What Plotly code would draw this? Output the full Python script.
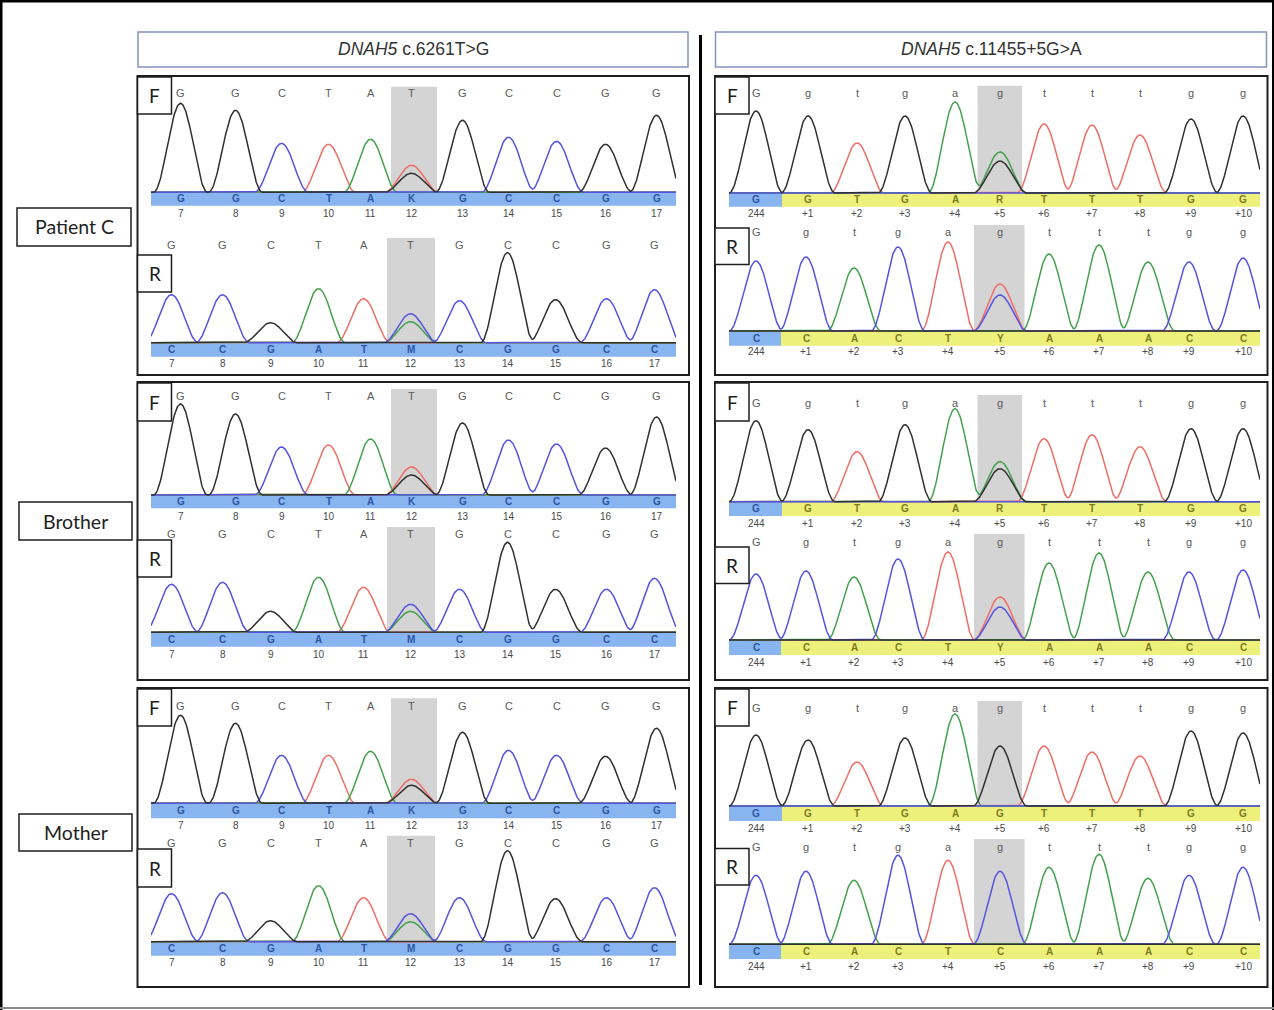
import numpy as np
import plotly.graph_objects as go

W, H = 1274, 1010

# ---------------- data ----------------
REF_LEFT = ["G", "G", "C", "T", "A", "T", "G", "C", "C", "G", "G"]
REF_RIGHT = ["G", "g", "t", "g", "a", "g", "t", "t", "t", "g", "g"]

CALL_LEFT_F = ["G", "G", "C", "T", "A", "K", "G", "C", "C", "G", "G"]
CALL_LEFT_R = ["C", "C", "G", "A", "T", "M", "C", "G", "G", "C", "C"]
CALL_RIGHT_F_HET = ["G", "G", "T", "G", "A", "R", "T", "T", "T", "G", "G"]
CALL_RIGHT_R_HET = ["C", "C", "A", "C", "T", "Y", "A", "A", "A", "C", "C"]
CALL_RIGHT_F_WT = ["G", "G", "T", "G", "A", "G", "T", "T", "T", "G", "G"]
CALL_RIGHT_R_WT = ["C", "C", "A", "C", "T", "C", "A", "A", "A", "C", "C"]

NUM_LEFT = ["7", "8", "9", "10", "11", "12", "13", "14", "15", "16", "17"]
NUM_RIGHT = ["244", "+1", "+2", "+3", "+4", "+5", "+6", "+7", "+8", "+9", "+10"]

# peak scan positions (trace scan units)
SCAN_LEFT_F = [43, 98, 144, 191, 233, 274, 325, 371, 419, 468, 519]
SCAN_LEFT_R = [34, 85, 133, 181, 226, 273, 322, 370, 418, 469, 517]
SCAN_RIGHT_F = [41, 93, 142, 190, 240, 285, 329, 377, 425, 476, 528]
SCAN_RIGHT_R = [41, 91, 139, 183, 233, 285, 334, 384, 433, 474, 528]

# dominant dye channel of each peak
CH_LEFT_F = "GGCTATGCCGG"
CH_LEFT_R = "CCGATCCGGCC"
CH_RIGHT_F_HET = "GGTGAATTTGG"
CH_RIGHT_R_HET = "CCACTTAAACC"
CH_RIGHT_F_WT = "GGTGAGTTTGG"
CH_RIGHT_R_WT = "CCACTCAAACC"

# peak heights (signal) and the second peak at the highlighted position
PAT_LEFT_F = [89, 82, 49, 48, 53, 27, 72, 55, 51, 48, 77]
PAT_LEFT_F_2ND = ("G", 19)
PAT_LEFT_R = [48, 48, 20, 54, 44, 29, 42, 90, 43, 44, 53]
PAT_LEFT_R_2ND = ("A", 21)
PAT_RIGHT_F = [82, 77, 50, 77, 91, 41, 69, 68, 58, 74, 77]
PAT_RIGHT_F_2ND = ("G", 32)
PAT_RIGHT_R = [70, 74, 63, 84, 89, 47, 77, 86, 69, 69, 73]
PAT_RIGHT_R_2ND = ("C", 36)

BRO_LEFT_F = [91, 81, 48, 50, 56, 28, 72, 55, 51, 47, 78]
BRO_LEFT_F_2ND = ("G", 20)
BRO_LEFT_R = [48, 50, 21, 55, 45, 28, 43, 90, 43, 43, 54]
BRO_LEFT_R_2ND = ("A", 21)
BRO_RIGHT_F = [81, 72, 50, 77, 93, 40, 63, 67, 55, 73, 73]
BRO_RIGHT_F_2ND = ("G", 33)
BRO_RIGHT_R = [66, 69, 63, 81, 88, 43, 77, 87, 68, 68, 70]
BRO_RIGHT_R_2ND = ("C", 33)

MOM_LEFT_F = [88, 80, 48, 48, 52, 24, 71, 53, 48, 47, 75]
MOM_LEFT_F_2ND = ("G", 18)
MOM_LEFT_R = [48, 49, 21, 56, 44, 28, 44, 91, 43, 44, 54]
MOM_LEFT_R_2ND = ("A", 20)
MOM_RIGHT_F = [71, 66, 44, 68, 92, 60, 60, 54, 50, 75, 73]
MOM_RIGHT_F_2ND = None
MOM_RIGHT_R = [69, 73, 64, 89, 84, 73, 77, 90, 66, 69, 77]
MOM_RIGHT_R_2ND = None

ROW_NAMES = ["Patient C", "Brother", "Mother"]
HEADERS = ["<i>DNAH5</i> c.6261T&gt;G", "<i>DNAH5</i> c.11455+5G&gt;A"]
HET_INDEX = 5

# ---------------- styling / layout ----------------
CH_COLOR = {"G": "#303030", "A": "#45a04e", "T": "#ee6e66", "C": "#5453e2"}
DRAW_ORDER = ["T", "A", "C", "G"]
BAND_BLUE = "#88b4ef"
BAND_YELLOW = "#eef07c"
PEAK_HALF_WIDTH = 27.0
FONT = "Liberation Sans, Arial, sans-serif"
LABEL_FONT = "Lato, Open Sans, sans-serif"

COLS = {  # panel left edge, band x0, band x1, panel right edge
    "L": dict(left=137.5, bx0=151, bx1=676, right=689),
    "R": dict(left=715, bx0=729, bx1=1260, right=1267.5),
}
PANEL_Y = [(76, 375), (382, 680), (688, 987)]
# per track: baseline, letters, band bottom, numbers, grey top (pixels)
GEOM = {
    (0, "L", "F"): (192.3, 93.5, 205.7, 213.3, 86.7),
    (0, "L", "R"): (342.7, 245, 356.7, 363.3, 238),
    (0, "R", "F"): (193, 93.5, 206.7, 213.3, 85.7),
    (0, "R", "R"): (331, 231.7, 345.7, 351.7, 225),
    (1, "L", "F"): (495, 395.5, 508.3, 516, 389),
    (1, "L", "R"): (632.3, 534, 646.7, 654, 527),
    (1, "R", "F"): (501.7, 402.7, 516, 523.3, 395),
    (1, "R", "R"): (640, 541.7, 655, 662.7, 534),
    (2, "L", "F"): (803.3, 705.7, 818.3, 825, 698.3),
    (2, "L", "R"): (941.7, 843.3, 955.7, 962.3, 835.7),
    (2, "R", "F"): (806, 708.3, 821, 828.3, 701),
    (2, "R", "R"): (944.3, 846.7, 959, 966.7, 839),
}
FBOX = [(77, 114), (383, 421), (689, 726)]
RBOX = {(0, "L"): (255, 292), (0, "R"): (228, 264.5), (1, "L"): (540, 577),
        (1, "R"): (547, 583.5), (2, "L"): (849, 887), (2, "R"): (848.5, 885)}
ROW_BOX = [(17, 131, 208, 246), (19, 132, 502, 540), (19, 132, 814, 851)]

TRACKS = [
    (0, "L", "F", PAT_LEFT_F, PAT_LEFT_F_2ND, CH_LEFT_F, SCAN_LEFT_F, REF_LEFT, CALL_LEFT_F, NUM_LEFT),
    (0, "L", "R", PAT_LEFT_R, PAT_LEFT_R_2ND, CH_LEFT_R, SCAN_LEFT_R, REF_LEFT, CALL_LEFT_R, NUM_LEFT),
    (0, "R", "F", PAT_RIGHT_F, PAT_RIGHT_F_2ND, CH_RIGHT_F_HET, SCAN_RIGHT_F, REF_RIGHT, CALL_RIGHT_F_HET, NUM_RIGHT),
    (0, "R", "R", PAT_RIGHT_R, PAT_RIGHT_R_2ND, CH_RIGHT_R_HET, SCAN_RIGHT_R, REF_RIGHT, CALL_RIGHT_R_HET, NUM_RIGHT),
    (1, "L", "F", BRO_LEFT_F, BRO_LEFT_F_2ND, CH_LEFT_F, SCAN_LEFT_F, REF_LEFT, CALL_LEFT_F, NUM_LEFT),
    (1, "L", "R", BRO_LEFT_R, BRO_LEFT_R_2ND, CH_LEFT_R, SCAN_LEFT_R, REF_LEFT, CALL_LEFT_R, NUM_LEFT),
    (1, "R", "F", BRO_RIGHT_F, BRO_RIGHT_F_2ND, CH_RIGHT_F_HET, SCAN_RIGHT_F, REF_RIGHT, CALL_RIGHT_F_HET, NUM_RIGHT),
    (1, "R", "R", BRO_RIGHT_R, BRO_RIGHT_R_2ND, CH_RIGHT_R_HET, SCAN_RIGHT_R, REF_RIGHT, CALL_RIGHT_R_HET, NUM_RIGHT),
    (2, "L", "F", MOM_LEFT_F, MOM_LEFT_F_2ND, CH_LEFT_F, SCAN_LEFT_F, REF_LEFT, CALL_LEFT_F, NUM_LEFT),
    (2, "L", "R", MOM_LEFT_R, MOM_LEFT_R_2ND, CH_LEFT_R, SCAN_LEFT_R, REF_LEFT, CALL_LEFT_R, NUM_LEFT),
    (2, "R", "F", MOM_RIGHT_F, MOM_RIGHT_F_2ND, CH_RIGHT_F_WT, SCAN_RIGHT_F, REF_RIGHT, CALL_RIGHT_F_WT, NUM_RIGHT),
    (2, "R", "R", MOM_RIGHT_R, MOM_RIGHT_R_2ND, CH_RIGHT_R_WT, SCAN_RIGHT_R, REF_RIGHT, CALL_RIGHT_R_WT, NUM_RIGHT),
]


def fx(px):
    return px / W


def fy(py):
    return 1 - py / H


def ann(**kw):
    kw.setdefault("showarrow", False)
    kw.setdefault("xanchor", "center")
    kw.setdefault("yanchor", "middle")
    return kw


def peak_shape(xs, centre, height):
    d = np.clip(np.abs(xs - centre) / PEAK_HALF_WIDTH, 0, 1)
    return height * np.cos(d * np.pi / 2) ** 2


fig = go.Figure()
shapes = []
annotations = []
layout_axes = {}

for k, (row, col, strand, heights, second, chans, scans, ref, calls, nums) in enumerate(TRACKS, start=1):
    c = COLS[col]
    base, let_y, band_bot, num_y, grey_top = GEOM[(row, col, strand)]
    y_top = grey_top - 2
    y_bot = num_y + 8
    xr = [c["bx0"] - c["left"], c["bx1"] - c["left"]]
    yr = [-(y_bot - base), base - y_top]
    xname = "xaxis" if k == 1 else f"xaxis{k}"
    yname = "yaxis" if k == 1 else f"yaxis{k}"
    xref = "x" if k == 1 else f"x{k}"
    yref = "y" if k == 1 else f"y{k}"
    layout_axes[xname] = dict(domain=[fx(c["bx0"]), fx(c["bx1"])], range=xr, visible=False,
                              fixedrange=True, anchor=yref)
    layout_axes[yname] = dict(domain=[fy(y_bot), fy(y_top)], range=yr, visible=False,
                              fixedrange=True, anchor=xref)

    # peaks for each dye channel
    peaks = {ch: [] for ch in "ACGT"}
    for s, ch, h in zip(scans, chans, heights):
        peaks[ch].append((s, h))
    if second is not None:
        peaks[second[0]].append((scans[HET_INDEX], second[1]))
    xs = np.linspace(xr[0], xr[1], 900)
    for ch in DRAW_ORDER:
        ys = np.zeros_like(xs)
        for s, h in peaks[ch]:
            ys += peak_shape(xs, s, h)
        fig.add_trace(go.Scatter(x=xs, y=ys, mode="lines", xaxis=xref, yaxis=yref,
                                 line=dict(color=CH_COLOR[ch], width=1.5),
                                 hoverinfo="skip", showlegend=False))

    # grey highlight of the variant position
    gx0 = (scans[HET_INDEX - 1] + scans[HET_INDEX]) / 2
    gx1 = (scans[HET_INDEX] + scans[HET_INDEX + 1]) / 2
    shapes.append(dict(type="rect", xref=xref, yref=yref, x0=gx0, x1=gx1, y0=0,
                       y1=base - grey_top, fillcolor="#d4d4d4", line=dict(width=0), layer="below"))
    # base-call band
    band_y0 = -(band_bot - base)
    if col == "L":
        shapes.append(dict(type="rect", xref=xref, yref=yref, x0=xr[0], x1=xr[1], y0=band_y0, y1=0.5,
                           fillcolor=BAND_BLUE, line=dict(width=0), layer="below"))
    else:
        mid = (scans[0] + scans[1]) / 2
        shapes.append(dict(type="rect", xref=xref, yref=yref, x0=xr[0], x1=mid, y0=band_y0, y1=0.5,
                           fillcolor=BAND_BLUE, line=dict(width=0), layer="below"))
        shapes.append(dict(type="rect", xref=xref, yref=yref, x0=mid, x1=xr[1], y0=band_y0, y1=0.5,
                           fillcolor=BAND_YELLOW, line=dict(width=0), layer="below"))

    for i, s in enumerate(scans):
        annotations.append(ann(x=s, y=base - let_y, xref=xref, yref=yref, text=ref[i],
                               font=dict(family=FONT, size=11, color="#5a5a5a")))
        on_yellow = (col == "R" and i > 0)
        annotations.append(ann(x=s, y=band_y0 / 2, xref=xref, yref=yref, text=f"<b>{calls[i]}</b>",
                               font=dict(family=FONT, size=10, color="#7c7c22" if on_yellow else "#2d55a5")))
        annotations.append(ann(x=s, y=-(num_y - base), xref=xref, yref=yref, text=nums[i],
                               font=dict(family=FONT, size=10, color="#4a4a4a")))

# panel frames, F/R boxes
for r, (t, b) in enumerate(PANEL_Y):
    for col in ("L", "R"):
        c = COLS[col]
        shapes.append(dict(type="rect", xref="paper", yref="paper", x0=fx(c["left"]), x1=fx(c["right"]),
                           y0=fy(b), y1=fy(t), line=dict(color="#1e1e1e", width=2), fillcolor="rgba(0,0,0,0)"))
        for lab, (bt, bb) in (("F", FBOX[r]), ("R", RBOX[(r, col)])):
            shapes.append(dict(type="rect", xref="paper", yref="paper", x0=fx(c["left"]), x1=fx(c["left"] + 34),
                               y0=fy(bb), y1=fy(bt), line=dict(color="#1e1e1e", width=1.5), fillcolor="white"))
            annotations.append(ann(x=fx(c["left"] + 17), y=fy((bt + bb) / 2), xref="paper", yref="paper",
                                   text=lab, font=dict(family=LABEL_FONT, size=19, color="#1e1e1e")))

# row labels
for name, (x0, x1, y0, y1) in zip(ROW_NAMES, ROW_BOX):
    shapes.append(dict(type="rect", xref="paper", yref="paper", x0=fx(x0), x1=fx(x1), y0=fy(y1), y1=fy(y0),
                       line=dict(color="#1e1e1e", width=1.5), fillcolor="white"))
    annotations.append(ann(x=fx((x0 + x1) / 2), y=fy((y0 + y1) / 2), xref="paper", yref="paper", text=name,
                           font=dict(family=LABEL_FONT, size=19.5, color="#1e1e1e")))

# column headers
for text, col in zip(HEADERS, ("L", "R")):
    c = COLS[col]
    x0, x1 = c["left"] + 0.5, c["right"] - 1
    shapes.append(dict(type="rect", xref="paper", yref="paper", x0=fx(x0), x1=fx(x1), y0=fy(67), y1=fy(32),
                       line=dict(color="#8592c2", width=1.5), fillcolor="white"))
    annotations.append(ann(x=fx((x0 + x1) / 2), y=fy(48.5), xref="paper", yref="paper", text=text,
                           font=dict(family=FONT, size=17.5, color="#333333")))

# separator and outer frame
shapes.append(dict(type="line", xref="paper", yref="paper", x0=fx(700.5), x1=fx(700.5), y0=fy(985), y1=fy(35),
                   line=dict(color="#000000", width=3)))
shapes.append(dict(type="line", xref="paper", yref="paper", x0=0, x1=1, y0=fy(1), y1=fy(1),
                   line=dict(color="#000000", width=3)))
shapes.append(dict(type="line", xref="paper", yref="paper", x0=fx(1), x1=fx(1), y0=0, y1=1,
                   line=dict(color="#000000", width=3)))
shapes.append(dict(type="line", xref="paper", yref="paper", x0=fx(1273), x1=fx(1273), y0=0, y1=1,
                   line=dict(color="#000000", width=2)))
shapes.append(dict(type="line", xref="paper", yref="paper", x0=0, x1=1, y0=fy(1008), y1=fy(1008),
                   line=dict(color="#8a8a8a", width=2)))

fig.update_layout(
    width=W, height=H, margin=dict(l=0, r=0, t=0, b=0),
    paper_bgcolor="white", plot_bgcolor="rgba(0,0,0,0)",
    showlegend=False, shapes=shapes, annotations=annotations,
    **layout_axes,
)

fig.write_html("out.html", config={"displayModeBar": False},
               post_script="document.body.style.margin='0px';document.body.style.overflow='hidden';")
